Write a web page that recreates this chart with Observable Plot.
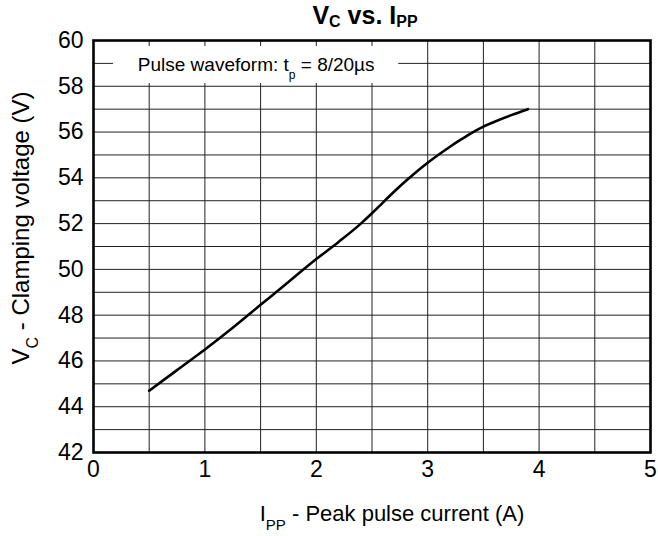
<!DOCTYPE html>
<html><head><meta charset="utf-8">
<script src="https://cdn.jsdelivr.net/npm/d3@7"></script>
<script src="https://cdn.jsdelivr.net/npm/@observablehq/plot@0.6"></script>
<style>
body{margin:0;background:#fff;font-family:"Liberation Sans",Arial,sans-serif;}
#title{height:24px;line-height:30px;font-size:25px;font-weight:bold;text-align:center;padding-left:72px;width:586px;color:#000;white-space:nowrap;}
#title sub{font-size:16px;vertical-align:baseline;position:relative;top:3px;}
</style></head><body>
<div id="title">V<sub>C</sub> vs. I<sub>PP</sub></div>
<div id="chart"></div>
<script>
// Peak pulse current (A)
const current = [0.5, 0.75, 1.0, 1.25, 1.5, 1.75, 2.0, 2.2, 2.4, 2.5, 2.6, 2.7, 2.8, 2.9, 3.0, 3.1, 3.2, 3.3, 3.4, 3.5, 3.6, 3.75, 3.9];
// Clamping voltage (V)
const voltage = [44.7, 45.6, 46.5, 47.45, 48.45, 49.45, 50.45, 51.2, 52.0, 52.45, 52.93, 53.4, 53.85, 54.27, 54.66, 55.02, 55.36, 55.68, 55.98, 56.24, 56.45, 56.74, 57.0];

const xTicks = [0, 1, 2, 3, 4, 5];
const yTicks = [42, 44, 46, 48, 50, 52, 54, 56, 58, 60];
const xGridLines = [0, 0.5, 1, 1.5, 2, 2.5, 3, 3.5, 4, 4.5, 5];
const yGridLines = [42, 43, 44, 45, 46, 47, 48, 49, 50, 51, 52, 53, 54, 55, 56, 57, 58, 59, 60];

const annotation = {before: "Pulse waveform: t", sub: "p", after: " = 8/20µs"};
const xLabel = {main: "I", sub: "PP", rest: " - Peak pulse current (A)"};
const yLabel = {main: "V", sub: "C", rest: " - Clamping voltage (V)"};

const data = current.map((c, i) => ({c, v: voltage[i]}));
const font = "Liberation Sans, Arial, sans-serif";

const plot = Plot.plot({
  width: 658,
  height: 512,
  marginTop: 16,
  marginBottom: 84,
  marginLeft: 93,
  marginRight: 8,
  style: {fontFamily: font, color: "#000", background: "#fff", overflow: "visible"},
  x: {domain: [0, 5]},
  y: {domain: [42, 60]},
  marks: [
    Plot.gridX(xGridLines, {stroke: "#222", strokeOpacity: 1, strokeWidth: 1}),
    Plot.gridY(yGridLines, {stroke: "#222", strokeOpacity: 1, strokeWidth: 1}),
    Plot.rect([{x1: 0.18, x2: 2.74, y1: 58.12, y2: 59.74}], {x1: "x1", x2: "x2", y1: "y1", y2: "y2", fill: "white"}),
    Plot.axisX(xTicks, {tickSize: 0, tickPadding: 8, fontSize: 23, label: null}),
    Plot.axisY(yTicks, {tickSize: 0, tickPadding: 10, fontSize: 23, label: null}),
    Plot.line(data, {x: "c", y: "v", curve: "monotone-x", stroke: "black", strokeWidth: 2.6}),
    Plot.frame({stroke: "black", strokeWidth: 2.6})
  ]
});

const svg = d3.select(plot);
const sx = plot.scale("x"), sy = plot.scale("y");

// annotation text inside the white box
const at = svg.append("text")
  .attr("x", sx.apply(1.465)).attr("y", sy.apply(58.65))
  .attr("text-anchor", "middle").attr("font-size", 19).attr("font-family", font).attr("fill", "#000");
at.append("tspan").text(annotation.before);
at.append("tspan").attr("font-size", 12).attr("dy", 8).text(annotation.sub);
at.append("tspan").attr("dy", -8).text(annotation.after);

// x axis label
const xl = svg.append("text")
  .attr("x", 392).attr("y", 497)
  .attr("text-anchor", "middle").attr("font-size", 22).attr("font-family", font).attr("fill", "#000");
xl.append("tspan").text(xLabel.main);
xl.append("tspan").attr("font-size", 15).attr("dy", 9).text(xLabel.sub);
xl.append("tspan").attr("dy", -9).text(xLabel.rest);

// y axis label
const yl = svg.append("text")
  .attr("transform", "translate(29,204) rotate(-90)")
  .attr("text-anchor", "middle").attr("font-size", 24).attr("font-family", font).attr("fill", "#000");
yl.append("tspan").text(yLabel.main);
yl.append("tspan").attr("font-size", 16).attr("dy", 9).text(yLabel.sub);
yl.append("tspan").attr("dy", -9).text(yLabel.rest);

document.getElementById("chart").appendChild(plot);
</script>
</body></html>
